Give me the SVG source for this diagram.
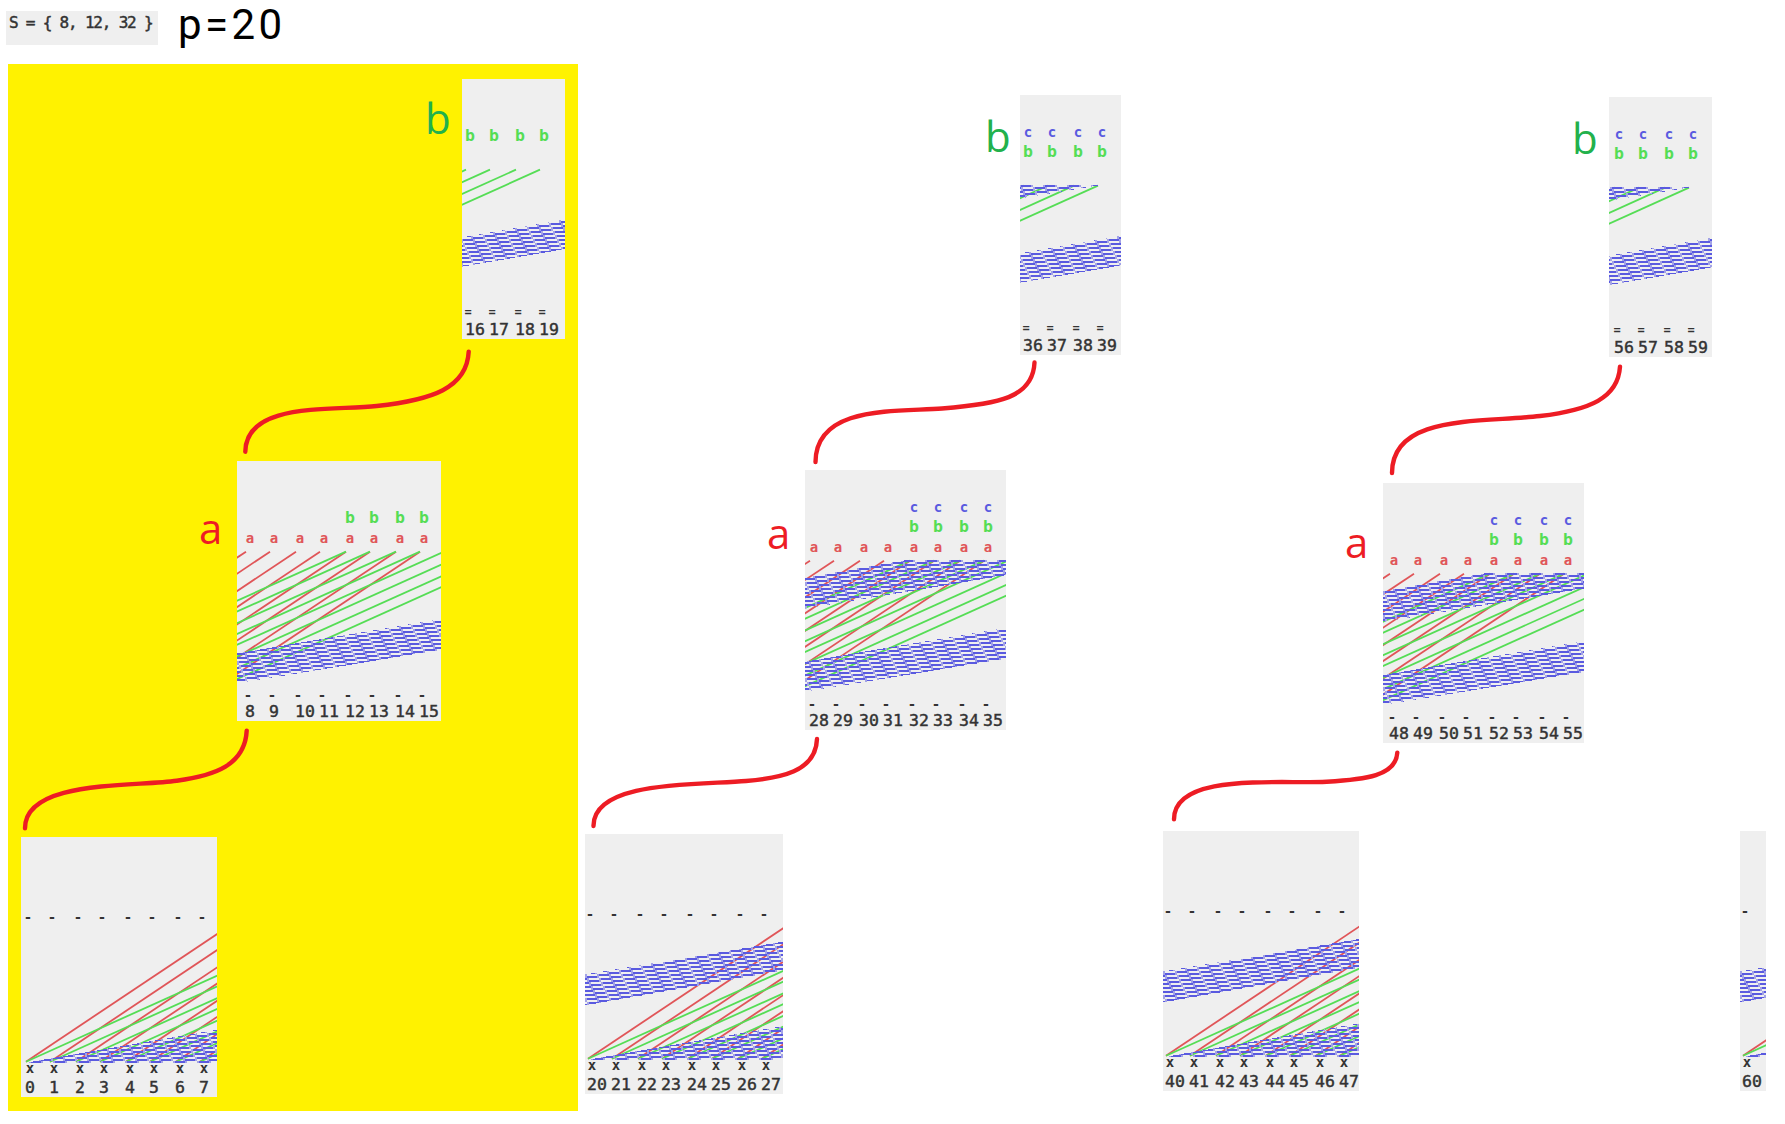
<svg xmlns="http://www.w3.org/2000/svg" width="1785" height="1124" viewBox="0 0 1785 1124">
<style>
.bg{fill:#efefef}
.n{font:16.5px "DejaVu Sans Mono",monospace;fill:#333;stroke:#333;stroke-width:.45}
.m{font:bold 14px "DejaVu Sans Mono",monospace;fill:#333;text-anchor:middle}
.e{font:bold 12px "DejaVu Sans Mono",monospace;fill:#333;text-anchor:middle}
.a{font:bold 14px "DejaVu Sans Mono",monospace;fill:#e05558;text-anchor:middle}
.b{font:bold 16.5px "DejaVu Sans Mono",monospace;fill:#55dd55;text-anchor:middle}
.c{font:bold 14px "DejaVu Sans Mono",monospace;fill:#5a5ae0;text-anchor:middle}
.big{font:42px "Open Sans",sans-serif}
.r line{stroke:#e05558;stroke-width:1.8}
.g line{stroke:#55dd55;stroke-width:1.8}
.conn path{fill:none;stroke:#ed1c24;stroke-width:4.4;stroke-linecap:round}
.band{shape-rendering:crispEdges}
</style>
<defs>
<pattern id="blue" patternUnits="userSpaceOnUse" width="24" height="48">
<path fill="#5a5ae0" d="M0 2H12V4H0zM12 0H24V2H12zM2 6H14V8H2zM14 4H24V6H14zM0 4H2V6H0zM4 10H16V12H4zM16 8H24V10H16zM0 8H4V10H0zM6 14H18V16H6zM18 12H24V14H18zM0 12H6V14H0zM8 18H20V20H8zM20 16H24V18H20zM0 16H8V18H0zM10 22H22V24H10zM22 20H24V22H22zM0 20H10V22H0zM12 26H24V28H12zM0 24H12V26H0zM14 30H24V32H14zM0 30H2V32H0zM2 28H14V30H2zM16 34H24V36H16zM0 34H4V36H0zM4 32H16V34H4zM18 38H24V40H18zM0 38H6V40H0zM6 36H18V38H6zM20 42H24V44H20zM0 42H8V44H0zM8 40H20V42H8zM22 46H24V48H22zM0 46H10V48H0zM10 44H22V46H10z"/>
<path fill="#a3a3e6" d="M11 0h2v4h-2zM23 0h1v4h-1zM0 0h1v4H0zM1 4h2v4H1zM13 4h2v4h-2zM3 8h2v4H3zM15 8h2v4h-2zM5 12h2v4H5zM17 12h2v4h-2zM7 16h2v4H7zM19 16h2v4h-2zM9 20h2v4H9zM21 20h2v4h-2zM11 24h2v4h-2zM23 24h1v4h-1zM0 24h1v4H0zM13 28h2v4h-2zM1 28h2v4H1zM15 32h2v4h-2zM3 32h2v4H3zM17 36h2v4h-2zM5 36h2v4H5zM19 40h2v4h-2zM7 40h2v4H7zM21 44h2v4h-2zM9 44h2v4H9z"/>
</pattern>
<clipPath id="c196"><rect width="196" height="260"/></clipPath>
<clipPath id="c198"><rect width="198" height="260"/></clipPath>
<clipPath id="c201"><rect width="201" height="260"/></clipPath>
<clipPath id="c204"><rect width="204" height="260"/></clipPath>
<clipPath id="c103"><rect width="103" height="260"/></clipPath>
<clipPath id="c101"><rect width="101" height="260"/></clipPath>
<clipPath id="c26"><rect width="26" height="260"/></clipPath>
<g id="fanX">
<g class="r">
<line x1="0" y1="224.7" x2="204" y2="88.4"/><line x1="24" y1="224.7" x2="204" y2="104.5"/><line x1="50" y1="224.7" x2="204" y2="121.8"/><line x1="74" y1="224.7" x2="204" y2="137.9"/><line x1="100" y1="224.7" x2="204" y2="155.2"/><line x1="124" y1="224.7" x2="204" y2="171.3"/><line x1="150" y1="224.7" x2="204" y2="188.6"/><line x1="174" y1="224.7" x2="204" y2="204.7"/>
</g>
<g class="g">
<line x1="0" y1="224.7" x2="204" y2="132.9"/><line x1="24" y1="224.7" x2="204" y2="143.7"/><line x1="50" y1="224.7" x2="204" y2="155.4"/><line x1="74" y1="224.7" x2="204" y2="166.2"/><line x1="100" y1="224.7" x2="204" y2="177.9"/><line x1="124" y1="224.7" x2="204" y2="188.7"/><line x1="150" y1="224.7" x2="204" y2="200.4"/><line x1="174" y1="224.7" x2="204" y2="211.2"/>
</g>
<polygon class="band" fill="url(#blue)" points="-2,226 204,226 204,190.6"/>
</g>
<polygon id="bandUpX" class="band" fill="url(#blue)" points="-5,140.8 204,106.2 204,135.3 -5,171.7"/>
<g id="fanA">
<g class="r">
<line x1="-196.6" y1="222" x2="0" y2="90.67"/><line x1="-172.6" y1="222" x2="24" y2="90.67"/><line x1="-146.6" y1="222" x2="50" y2="90.67"/><line x1="-122.6" y1="222" x2="74" y2="90.67"/><line x1="-96.6" y1="222" x2="100" y2="90.67"/><line x1="-72.6" y1="222" x2="124" y2="90.67"/><line x1="-46.6" y1="222" x2="150" y2="90.67"/><line x1="-22.6" y1="222" x2="174" y2="90.67"/>
</g>
<g class="g">
<line x1="-10" y1="140.2" x2="100" y2="90.67"/><line x1="-10" y1="151" x2="124" y2="90.67"/><line x1="-10" y1="162.7" x2="150" y2="90.67"/><line x1="-10" y1="173.5" x2="174" y2="90.67"/><line x1="-10" y1="184.3" x2="198" y2="90.67"/><line x1="-10" y1="196" x2="224" y2="90.67"/><line x1="-10" y1="207.7" x2="250" y2="90.67"/><line x1="-10" y1="218.5" x2="274" y2="90.67"/>
</g>
<polygon class="band" fill="url(#blue)" points="-10,192.5 200,157.2 200,188 -10,222.5"/>
</g>
<polygon id="bandUpA" class="band" fill="url(#blue)" points="-10,108 97,90 200,90 200,104.5 -10,139.5"/>
<g id="fanB">
<g class="g">
<line x1="-10" y1="95.2" x2="0" y2="90.67"/><line x1="-10" y1="106" x2="24" y2="90.67"/><line x1="-10" y1="117.7" x2="50" y2="90.67"/><line x1="-10" y1="128.5" x2="74" y2="90.67"/>
</g>
<polygon class="band" fill="url(#blue)" points="-10,159.4 105,139.5 105,169 -10,188.7"/>
</g>
<polygon id="bandUpB" class="band" fill="url(#blue)" points="-10,90 74,90 74,90.5 -10,104.6"/>
</defs>

<rect id="highlight" x="8" y="64" width="570" height="1047" fill="#fff200"/>

<g id="header">
<rect class="bg" x="6" y="11" width="152" height="34"/>
<text x="9" y="28" class="n" style="font-size:16px;letter-spacing:-1.2px">S = { 8, 12, 32 }</text>
<text x="178" y="39" style="font:42px Roboto,sans-serif;letter-spacing:3.4px" fill="#000">p=20</text>
</g>

<g id="connectors" class="conn">
<path d="M468.7 351.7C467 388 432 400 376.7 406C330 411 246 402 245.3 451.7"/>
<path d="M246.7 730.7C245 765 215 775.5 176.7 780.7C130 787 25 780 25 828.3"/>
<path d="M1034.5 362.5C1033 398 998 404 942 408.5C896 412 816 405 815.5 462"/>
<path d="M817 739C816 772 780 778 746 781C700 785 593 780 593.5 826"/>
<path d="M1620 366.7C1618 398 1590 410 1540 416C1480 423 1392 414 1392 473"/>
<path d="M1397.3 752.7C1396 776 1365 779.5 1326.7 781.7C1280 784.4 1174 772 1174 819.3"/>
</g>

<g id="label-a1"><text class="big" x="199" y="544" fill="#ed1c24">a</text></g>
<g id="label-b1"><text class="big" x="425" y="134" fill="#22b14c">b</text></g>
<g id="label-a2"><text class="big" x="767" y="549" fill="#ed1c24">a</text></g>
<g id="label-b2"><text class="big" x="985" y="152" fill="#22b14c">b</text></g>
<g id="label-a3"><text class="big" x="1345" y="558" fill="#ed1c24">a</text></g>
<g id="label-b3"><text class="big" x="1572" y="154" fill="#22b14c">b</text></g>

<g id="panel-0" transform="translate(21,837)">
<rect class="bg" width="196" height="260"/>
<g clip-path="url(#c196)"><use href="#fanX" x="5"/></g>
<text class="m" x="7" y="85">-</text><text class="m" x="31" y="85">-</text><text class="m" x="57" y="85">-</text><text class="m" x="81" y="85">-</text><text class="m" x="107" y="85">-</text><text class="m" x="131" y="85">-</text><text class="m" x="157" y="85">-</text><text class="m" x="181" y="85">-</text>
<text class="m" x="9" y="236">x</text><text class="m" x="33" y="236">x</text><text class="m" x="59" y="236">x</text><text class="m" x="83" y="236">x</text><text class="m" x="109" y="236">x</text><text class="m" x="133" y="236">x</text><text class="m" x="159" y="236">x</text><text class="m" x="183" y="236">x</text>
<text class="n" x="4" y="256">0</text><text class="n" x="28" y="256">1</text><text class="n" x="54" y="256">2</text><text class="n" x="78" y="256">3</text><text class="n" x="104" y="256">4</text><text class="n" x="128" y="256">5</text><text class="n" x="154" y="256">6</text><text class="n" x="178" y="256">7</text>
</g>

<g id="panel-8" transform="translate(237,461)">
<rect class="bg" width="204" height="260"/>
<g clip-path="url(#c204)"><use href="#fanA" x="9"/></g>
<text class="b" x="113" y="62">b</text><text class="b" x="137" y="62">b</text><text class="b" x="163" y="62">b</text><text class="b" x="187" y="62">b</text>
<text class="a" x="13" y="82">a</text><text class="a" x="37" y="82">a</text><text class="a" x="63" y="82">a</text><text class="a" x="87" y="82">a</text><text class="a" x="113" y="82">a</text><text class="a" x="137" y="82">a</text><text class="a" x="163" y="82">a</text><text class="a" x="187" y="82">a</text>
<text class="m" x="11" y="239">-</text><text class="m" x="35" y="239">-</text><text class="m" x="61" y="239">-</text><text class="m" x="85" y="239">-</text><text class="m" x="111" y="239">-</text><text class="m" x="135" y="239">-</text><text class="m" x="161" y="239">-</text><text class="m" x="185" y="239">-</text>
<text class="n" x="8" y="256">8</text><text class="n" x="32" y="256">9</text><text class="n" x="58" y="256">10</text><text class="n" x="82" y="256">11</text><text class="n" x="108" y="256">12</text><text class="n" x="132" y="256">13</text><text class="n" x="158" y="256">14</text><text class="n" x="182" y="256">15</text>
</g>

<g id="panel-16" transform="translate(462,79)">
<rect class="bg" width="103" height="260"/>
<g clip-path="url(#c103)"><use href="#fanB" x="4"/></g>
<text class="b" x="8" y="62">b</text><text class="b" x="32" y="62">b</text><text class="b" x="58" y="62">b</text><text class="b" x="82" y="62">b</text>
<text class="e" x="6" y="237">=</text><text class="e" x="30" y="237">=</text><text class="e" x="56" y="237">=</text><text class="e" x="80" y="237">=</text>
<text class="n" x="3" y="256">16</text><text class="n" x="27" y="256">17</text><text class="n" x="53" y="256">18</text><text class="n" x="77" y="256">19</text>
</g>

<g id="panel-20" transform="translate(585,834)">
<rect class="bg" width="198" height="260"/>
<g clip-path="url(#c198)"><use href="#fanX" x="3"/><use href="#bandUpX" x="3"/></g>
<text class="m" x="5" y="85">-</text><text class="m" x="29" y="85">-</text><text class="m" x="55" y="85">-</text><text class="m" x="79" y="85">-</text><text class="m" x="105" y="85">-</text><text class="m" x="129" y="85">-</text><text class="m" x="155" y="85">-</text><text class="m" x="179" y="85">-</text>
<text class="m" x="7" y="236">x</text><text class="m" x="31" y="236">x</text><text class="m" x="57" y="236">x</text><text class="m" x="81" y="236">x</text><text class="m" x="107" y="236">x</text><text class="m" x="131" y="236">x</text><text class="m" x="157" y="236">x</text><text class="m" x="181" y="236">x</text>
<text class="n" x="2" y="256">20</text><text class="n" x="26" y="256">21</text><text class="n" x="52" y="256">22</text><text class="n" x="76" y="256">23</text><text class="n" x="102" y="256">24</text><text class="n" x="126" y="256">25</text><text class="n" x="152" y="256">26</text><text class="n" x="176" y="256">27</text>
</g>

<g id="panel-28" transform="translate(805,470)">
<rect class="bg" width="201" height="260"/>
<g clip-path="url(#c201)"><use href="#fanA" x="5"/><use href="#bandUpA" x="5"/></g>
<text class="c" x="109" y="42">c</text><text class="c" x="133" y="42">c</text><text class="c" x="159" y="42">c</text><text class="c" x="183" y="42">c</text>
<text class="b" x="109" y="62">b</text><text class="b" x="133" y="62">b</text><text class="b" x="159" y="62">b</text><text class="b" x="183" y="62">b</text>
<text class="a" x="9" y="82">a</text><text class="a" x="33" y="82">a</text><text class="a" x="59" y="82">a</text><text class="a" x="83" y="82">a</text><text class="a" x="109" y="82">a</text><text class="a" x="133" y="82">a</text><text class="a" x="159" y="82">a</text><text class="a" x="183" y="82">a</text>
<text class="m" x="7" y="239">-</text><text class="m" x="31" y="239">-</text><text class="m" x="57" y="239">-</text><text class="m" x="81" y="239">-</text><text class="m" x="107" y="239">-</text><text class="m" x="131" y="239">-</text><text class="m" x="157" y="239">-</text><text class="m" x="181" y="239">-</text>
<text class="n" x="4" y="256">28</text><text class="n" x="28" y="256">29</text><text class="n" x="54" y="256">30</text><text class="n" x="78" y="256">31</text><text class="n" x="104" y="256">32</text><text class="n" x="128" y="256">33</text><text class="n" x="154" y="256">34</text><text class="n" x="178" y="256">35</text>
</g>

<g id="panel-36" transform="translate(1020,95)">
<rect class="bg" width="101" height="260"/>
<g clip-path="url(#c101)"><use href="#fanB" x="4"/><use href="#bandUpB" x="4"/></g>
<text class="c" x="8" y="42">c</text><text class="c" x="32" y="42">c</text><text class="c" x="58" y="42">c</text><text class="c" x="82" y="42">c</text>
<text class="b" x="8" y="62">b</text><text class="b" x="32" y="62">b</text><text class="b" x="58" y="62">b</text><text class="b" x="82" y="62">b</text>
<text class="e" x="6" y="237">=</text><text class="e" x="30" y="237">=</text><text class="e" x="56" y="237">=</text><text class="e" x="80" y="237">=</text>
<text class="n" x="3" y="256">36</text><text class="n" x="27" y="256">37</text><text class="n" x="53" y="256">38</text><text class="n" x="77" y="256">39</text>
</g>

<g id="panel-40" transform="translate(1163,831)">
<rect class="bg" width="196" height="260"/>
<g clip-path="url(#c196)"><use href="#fanX" x="3"/><use href="#bandUpX" x="3"/></g>
<text class="m" x="5" y="85">-</text><text class="m" x="29" y="85">-</text><text class="m" x="55" y="85">-</text><text class="m" x="79" y="85">-</text><text class="m" x="105" y="85">-</text><text class="m" x="129" y="85">-</text><text class="m" x="155" y="85">-</text><text class="m" x="179" y="85">-</text>
<text class="m" x="7" y="236">x</text><text class="m" x="31" y="236">x</text><text class="m" x="57" y="236">x</text><text class="m" x="81" y="236">x</text><text class="m" x="107" y="236">x</text><text class="m" x="131" y="236">x</text><text class="m" x="157" y="236">x</text><text class="m" x="181" y="236">x</text>
<text class="n" x="2" y="256">40</text><text class="n" x="26" y="256">41</text><text class="n" x="52" y="256">42</text><text class="n" x="76" y="256">43</text><text class="n" x="102" y="256">44</text><text class="n" x="126" y="256">45</text><text class="n" x="152" y="256">46</text><text class="n" x="176" y="256">47</text>
</g>

<g id="panel-48" transform="translate(1383,483)">
<rect class="bg" width="201" height="260"/>
<g clip-path="url(#c201)"><use href="#fanA" x="7"/><use href="#bandUpA" x="7"/></g>
<text class="c" x="111" y="42">c</text><text class="c" x="135" y="42">c</text><text class="c" x="161" y="42">c</text><text class="c" x="185" y="42">c</text>
<text class="b" x="111" y="62">b</text><text class="b" x="135" y="62">b</text><text class="b" x="161" y="62">b</text><text class="b" x="185" y="62">b</text>
<text class="a" x="11" y="82">a</text><text class="a" x="35" y="82">a</text><text class="a" x="61" y="82">a</text><text class="a" x="85" y="82">a</text><text class="a" x="111" y="82">a</text><text class="a" x="135" y="82">a</text><text class="a" x="161" y="82">a</text><text class="a" x="185" y="82">a</text>
<text class="m" x="9" y="239">-</text><text class="m" x="33" y="239">-</text><text class="m" x="59" y="239">-</text><text class="m" x="83" y="239">-</text><text class="m" x="109" y="239">-</text><text class="m" x="133" y="239">-</text><text class="m" x="159" y="239">-</text><text class="m" x="183" y="239">-</text>
<text class="n" x="6" y="256">48</text><text class="n" x="30" y="256">49</text><text class="n" x="56" y="256">50</text><text class="n" x="80" y="256">51</text><text class="n" x="106" y="256">52</text><text class="n" x="130" y="256">53</text><text class="n" x="156" y="256">54</text><text class="n" x="180" y="256">55</text>
</g>

<g id="panel-56" transform="translate(1609,97)">
<rect class="bg" width="103" height="260"/>
<g clip-path="url(#c103)"><use href="#fanB" x="6"/><use href="#bandUpB" x="6"/></g>
<text class="c" x="10" y="42">c</text><text class="c" x="34" y="42">c</text><text class="c" x="60" y="42">c</text><text class="c" x="84" y="42">c</text>
<text class="b" x="10" y="62">b</text><text class="b" x="34" y="62">b</text><text class="b" x="60" y="62">b</text><text class="b" x="84" y="62">b</text>
<text class="e" x="8" y="237">=</text><text class="e" x="32" y="237">=</text><text class="e" x="58" y="237">=</text><text class="e" x="82" y="237">=</text>
<text class="n" x="5" y="256">56</text><text class="n" x="29" y="256">57</text><text class="n" x="55" y="256">58</text><text class="n" x="79" y="256">59</text>
</g>

<g id="panel-60" transform="translate(1740,831)">
<rect class="bg" width="26" height="260"/>
<g clip-path="url(#c26)"><use href="#fanX" x="3"/><use href="#bandUpX" x="3"/></g>
<text class="m" x="5" y="85">-</text>
<text class="m" x="7" y="236">x</text>
<text class="n" x="2" y="256">60</text>
</g>
</svg>
